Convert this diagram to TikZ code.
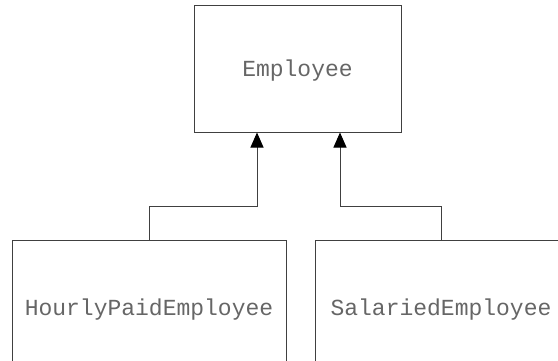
\documentclass[tikz,border=0pt]{standalone}
\usepackage{fontspec}
\newfontfamily\umlmono{Liberation Mono}
\usetikzlibrary{arrows.meta}
\definecolor{linegray}{gray}{0.25}
\definecolor{textgray}{gray}{0.4}
\tikzset{
  classbox/.style={draw=linegray, line width=1pt, rectangle, inner sep=0pt, font=\umlmono\fontsize{23}{26}\selectfont, text=textgray},
  inherit/.style={draw=linegray, line width=1pt, -{Triangle[length=15pt,width=13pt,fill=black,color=black]}}
}
\begin{document}
\begin{tikzpicture}[x=1pt,y=-1pt]
\useasboundingbox (0,0) rectangle (558,360);
\clip (0,0) rectangle (558,360);
\node[classbox, minimum width=207pt, minimum height=127pt, text depth=0pt] (emp) at (297.5,68.5) {};
\node[font=\umlmono\fontsize{23}{26}\selectfont, text=textgray, inner sep=0pt] (emplabel) at (297.5,71) {Employee};
\node[classbox, minimum width=274pt, minimum height=140pt] (hourly) at (149,310) {HourlyPaidEmployee};
\node[classbox, minimum width=252pt, minimum height=140pt] (salaried) at (441,310) {SalariedEmployee};
\coordinate (ja) at (257,206);
\coordinate (jb) at (340,206);
\draw[inherit] (hourly.north) |- (ja) -- (ja |- emp.south);
\draw[inherit] (salaried.north) |- (jb) -- (jb |- emp.south);
\end{tikzpicture}
\end{document}
